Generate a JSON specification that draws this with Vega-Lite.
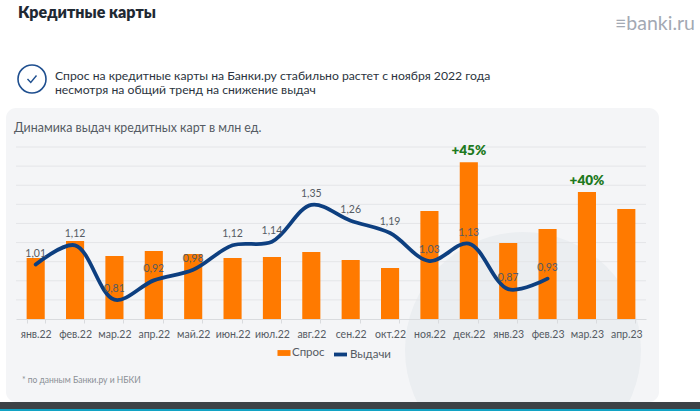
{"$schema":"https://vega.github.io/schema/vega-lite/v6.json","autosize":"none","width":630,"height":172,"padding":{"left":16,"top":147,"right":54,"bottom":92},"background":"#ffffff","config":{"view":{"stroke":null},"font":"Lato","text":{"font":"Lato"}},"title":{"text":"Кредитные карты","anchor":"start","frame":"group","font":"Lato","fontSize":16,"fontWeight":800,"color":"#1f2933","dx":2,"offset":-7},"datasets":{"rows":[{"month":"янв.22","spros":3.19,"vydachi":1.01,"label":"1,01"},{"month":"фев.22","spros":4.08,"vydachi":1.12,"label":"1,12"},{"month":"мар.22","spros":3.3,"vydachi":0.81,"label":"0,81"},{"month":"апр.22","spros":3.56,"vydachi":0.92,"label":"0,92"},{"month":"май.22","spros":3.4,"vydachi":0.98,"label":"0,98"},{"month":"июн.22","spros":3.19,"vydachi":1.12,"label":"1,12"},{"month":"июл.22","spros":3.24,"vydachi":1.14,"label":"1,14"},{"month":"авг.22","spros":3.5,"vydachi":1.35,"label":"1,35"},{"month":"сен.22","spros":3.09,"vydachi":1.26,"label":"1,26"},{"month":"окт.22","spros":2.67,"vydachi":1.19,"label":"1,19"},{"month":"ноя.22","spros":5.65,"vydachi":1.03,"label":"1,03"},{"month":"дек.22","spros":8.2,"vydachi":1.13,"label":"1,13","note":"+45%"},{"month":"янв.23","spros":3.98,"vydachi":0.87,"label":"0,87"},{"month":"фев.23","spros":4.71,"vydachi":0.93,"label":"0,93"},{"month":"мар.23","spros":6.65,"note":"+40%"},{"month":"апр.23","spros":5.76}]},"layer":[{"layer":[{"data":{"values":[{"part":"panel"}]},"mark":{"type":"rect","fill":"#f4f5f7","cornerRadius":10,"clip":false},"encoding":{"x":{"datum":-10,"type":"quantitative","scale":{"domain":[0,630],"nice":false,"zero":false},"axis":null},"x2":{"datum":643},"y":{"datum":211,"type":"quantitative","scale":{"domain":[0,172],"nice":false,"zero":false},"axis":null},"y2":{"datum":-83}}},{"data":{"values":[{"part":"blob"}]},"mark":{"type":"point","shape":"circle","filled":true,"fill":"#ebeef1","opacity":1,"size":55696,"clip":false},"encoding":{"x":{"datum":507,"type":"quantitative","axis":null},"y":{"datum":-31,"type":"quantitative","axis":null}}},{"data":{"values":[{"part":"footer"}]},"mark":{"type":"rect","fill":"#3d4246"},"encoding":{"x":{"datum":-16,"type":"quantitative","axis":null},"x2":{"datum":684},"y":{"datum":-83,"type":"quantitative","axis":null},"y2":{"datum":-92}}},{"data":{"values":[{"part":"footer-line"}]},"mark":{"type":"rect","fill":"#12a3c4"},"encoding":{"x":{"datum":-16,"type":"quantitative","axis":null},"x2":{"datum":684},"y":{"datum":-90,"type":"quantitative","axis":null},"y2":{"datum":-92}}},{"data":{"values":[{"part":"icon"}]},"mark":{"type":"point","shape":"circle","filled":false,"stroke":"#1f4f8f","strokeWidth":1.6,"opacity":1,"size":784},"encoding":{"x":{"datum":16,"type":"quantitative","axis":null},"y":{"datum":240,"type":"quantitative","axis":null}}},{"data":{"values":[{"part":"check"}]},"mark":{"type":"point","shape":"M-0.9,0 L-0.25,0.7 L0.9,-0.7","filled":false,"stroke":"#1f4f8f","strokeWidth":1.4,"opacity":1,"size":100},"encoding":{"x":{"datum":16,"type":"quantitative","axis":null},"y":{"datum":240,"type":"quantitative","axis":null}}},{"data":{"values":[{"note":"Спрос на кредитные карты на Банки.ру стабильно растет с ноября 2022 года"}]},"mark":{"type":"text","align":"left","baseline":"middle","font":"Lato","fontSize":12.2,"color":"#2b3440"},"encoding":{"text":{"field":"note"},"x":{"datum":39,"type":"quantitative","axis":null},"y":{"datum":243,"type":"quantitative","axis":null}}},{"data":{"values":[{"note":"несмотря на общий тренд на снижение выдач"}]},"mark":{"type":"text","align":"left","baseline":"middle","font":"Lato","fontSize":12.2,"color":"#2b3440"},"encoding":{"text":{"field":"note"},"x":{"datum":39,"type":"quantitative","axis":null},"y":{"datum":229,"type":"quantitative","axis":null}}},{"data":{"values":[{"note":"≡banki.ru"}]},"mark":{"type":"text","align":"right","baseline":"middle","font":"Lato","fontSize":19.5,"color":"#a3a9b3"},"encoding":{"text":{"field":"note"},"x":{"datum":679,"type":"quantitative","axis":null},"y":{"datum":295,"type":"quantitative","axis":null}}},{"data":{"values":[{"note":"Динамика выдач кредитных карт в млн ед."}]},"mark":{"type":"text","align":"left","baseline":"middle","font":"Lato","fontSize":12.4,"color":"#555b63"},"encoding":{"text":{"field":"note"},"x":{"datum":-2,"type":"quantitative","axis":null},"y":{"datum":191,"type":"quantitative","axis":null}}},{"data":{"values":[{"note":"* по данным Банки.ру и НБКИ"}]},"mark":{"type":"text","align":"left","baseline":"middle","font":"Lato","fontSize":8.5,"color":"#8a8f96"},"encoding":{"text":{"field":"note"},"x":{"datum":6,"type":"quantitative","axis":null},"y":{"datum":-61,"type":"quantitative","axis":null}}}]},{"layer":[{"data":{"values":[{"g":1},{"g":2},{"g":3},{"g":4},{"g":5},{"g":6},{"g":7},{"g":8},{"g":9}]},"mark":{"type":"rule","color":"#e4e5e8","strokeWidth":1},"encoding":{"y":{"field":"g","type":"quantitative","scale":{"domain":[0,9],"nice":false},"axis":null}}},{"data":{"name":"rows"},"transform":[{"calculate":"'Спрос'","as":"kind"}],"mark":{"type":"bar","color":"#ff7a00"},"encoding":{"x":{"field":"month","type":"nominal","sort":null,"title":null,"scale":{"paddingInner":0.54,"paddingOuter":0.27},"axis":{"labelAngle":0,"labelFont":"Lato","labelFontSize":10.5,"labelColor":"#555b63","domainColor":"#d9dbde","tickColor":"#d9dbde","tickBand":"extent","tickSize":4,"labelPadding":6,"grid":false,"zindex":1}},"y":{"field":"spros","type":"quantitative","axis":null},"fill":{"field":"kind","type":"nominal","scale":{"domain":["Спрос"],"range":["#ff7a00"]},"legend":{"title":null,"orient":"none","legendX":261,"legendY":199,"symbolType":"M-1,-0.45H1V0.45H-1Z","symbolSize":170,"labelFont":"Lato","labelFontSize":11.5,"labelColor":"#555b63","symbolStrokeWidth":0,"labelOffset":1}}}},{"data":{"name":"rows"},"transform":[{"filter":"isValid(datum.note)"}],"mark":{"type":"text","fontWeight":800,"font":"Lato","fontSize":13.5,"color":"#1e7a1e","dy":-11},"encoding":{"text":{"field":"note"},"x":{"field":"month","type":"nominal","sort":null},"y":{"field":"spros","type":"quantitative","axis":null}}}]},{"layer":[{"data":{"name":"rows"},"transform":[{"filter":"isValid(datum.vydachi)"},{"calculate":"'Выдачи'","as":"kind"}],"mark":{"type":"line","interpolate":"catmull-rom","strokeWidth":3.8,"strokeCap":"round"},"encoding":{"x":{"field":"month","type":"nominal","sort":null,"axis":null,"scale":{"domain":["янв.22","фев.22","мар.22","апр.22","май.22","июн.22","июл.22","авг.22","сен.22","окт.22","ноя.22","дек.22","янв.23","фев.23","мар.23","апр.23"],"paddingInner":0.54,"paddingOuter":0.27}},"y":{"field":"vydachi","type":"quantitative","axis":null,"scale":{"domain":[0.7,1.68],"nice":false,"zero":false}},"stroke":{"field":"kind","type":"nominal","scale":{"domain":["Выдачи"],"range":["#0d3f80"]},"legend":{"title":null,"orient":"none","legendX":316,"legendY":199,"symbolType":"stroke","symbolStrokeWidth":3.8,"symbolSize":170,"labelFont":"Lato","labelFontSize":11.5,"labelColor":"#555b63","labelOffset":1}}}},{"data":{"name":"rows"},"transform":[{"filter":"isValid(datum.vydachi)"}],"mark":{"type":"text","font":"Lato","fontSize":10.5,"color":"#555b63","dy":-11},"encoding":{"text":{"field":"label"},"x":{"field":"month","type":"nominal","sort":null},"y":{"field":"vydachi","type":"quantitative","axis":null}}}]}],"resolve":{"scale":{"x":"independent","y":"independent"}}}
